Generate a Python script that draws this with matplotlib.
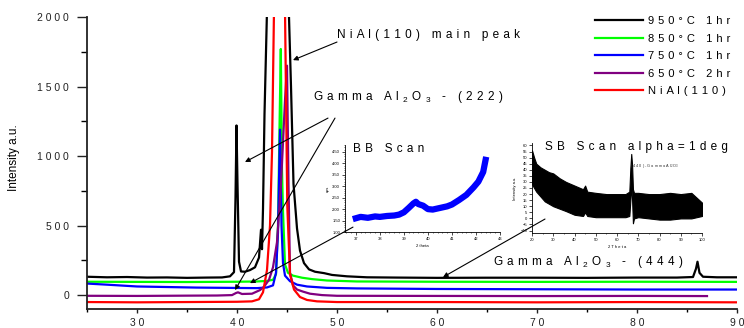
import matplotlib
matplotlib.use("Agg")
import matplotlib.pyplot as plt
from matplotlib.ticker import MultipleLocator

plt.rcParams['font.family'] = ['Liberation Sans', 'DejaVu Sans']
plt.rcParams['mathtext.fontset'] = 'custom'
plt.rcParams['mathtext.rm'] = 'Liberation Sans'

# ---------------- data ----------------
black_x = [25, 27, 29, 31, 33, 35, 37, 38.5, 39.3, 39.7, 39.85, 39.95, 40.05, 40.2, 40.4, 40.8, 41.3, 41.8,
           42.2, 42.4, 42.5, 42.6, 42.75, 43.0, 43.3, 44.1, 44.9, 45.2, 45.4, 45.65, 46.0, 46.3, 46.7, 47.2,
           47.8, 48.7, 49.5, 51, 53, 56, 60, 65, 70, 75, 80, 84, 85.6, 85.9, 86.05, 86.25, 86.6, 88, 90]
black_y = [132, 128, 130, 126, 127, 124, 126, 127, 135, 165, 700, 1220, 800, 240, 170, 168, 180, 200,
           270, 470, 330, 620, 1300, 2050, 3000, 5000, 4000, 2000, 1500, 800, 480, 320, 230, 185,
           168, 158, 145, 135, 128, 126, 124, 125, 125, 124, 126, 126, 130, 190, 240, 160, 132, 128, 128]

green_x = [25, 30, 35, 40, 42, 43, 43.6, 43.9, 44.1, 44.25, 44.38, 44.5, 44.6, 44.8, 45.1, 45.6, 46.5,
           47.5, 49, 52, 60, 70, 80, 90]
green_y = [96, 95, 94, 96, 98, 102, 110, 150, 500, 1200, 1770, 900, 600, 220, 160, 140, 125,
           115, 105, 98, 96, 95, 96, 95]

blue_x = [25, 27, 30, 33, 36, 39, 42, 43, 43.6, 43.9, 44.1, 44.3, 44.45, 44.6, 44.8, 45.3, 46, 47, 49,
          52, 60, 70, 80, 90]
blue_y = [83, 75, 62, 58, 54, 52, 50, 55, 70, 160, 450, 1190, 500, 230, 140, 100, 75, 62, 52,
          48, 44, 42, 40, 40]

purple_x = [25, 30, 35, 38, 39.5, 39.9, 40.1, 40.5, 41.5, 42.3, 42.7, 43.2, 43.6, 44.0, 44.4, 44.8, 45.0,
            45.15, 45.3, 45.6, 46.0, 46.6, 47.3, 48.5, 50, 60, 70, 80, 87]
purple_y = [-5, -6, -4, -3, 0, 15, 20, 8, 10, 36, 60, 110, 200, 380, 800, 1400, 1650,
            800, 160, 70, 40, 25, 10, 0, -5, -6, -7, -6, -7]

red_x = [25, 30, 35, 40, 41.5, 42.2, 42.6, 43.0, 43.3, 43.5, 43.7, 44.2, 44.8, 45.03, 45.3, 45.7, 46.3,
         47, 48, 50, 60, 70, 80, 90]
red_y = [-50, -52, -50, -48, -45, -30, 20, 180, 500, 1030, 2050, 6000, 2050, 640, 150, 40, -14,
         -35, -45, -50, -50, -52, -50, -52]

series_labels = ["950\u00b0C 1hr", "850\u00b0C 1hr", "750\u00b0C 1hr", "650\u00b0C 2hr", "NiAl(110)"]
series_colors = ["#000000", "#00ff00", "#0000ff", "#800080", "#ff0000"]

x_ticks = [30, 40, 50, 60, 70, 80, 90]
y_ticks = [0, 500, 1000, 1500, 2000]

# BB scan inset
bb_x = [37.0, 37.2, 37.5, 37.8, 38.0, 38.3, 38.6, 38.8, 39.0, 39.2, 39.4, 39.5, 39.6, 39.8, 40.0,
        40.2, 40.5, 40.8, 41.0, 41.3, 41.6, 41.9, 42.1, 42.3, 42.4]
bb_y = [1.60, 1.66, 1.62, 1.68, 1.66, 1.70, 1.72, 1.76, 1.86, 2.05, 2.25, 2.32, 2.22, 2.15, 2.00,
        1.98, 2.05, 2.12, 2.20, 2.40, 2.62, 2.95, 3.20, 3.62, 4.15]
bb_xticks = [37, 38, 39, 40, 41, 42, 43]
bb_yticks = [1.0, 1.5, 2.0, 2.5, 3.0, 3.5, 4.0, 4.5]

# SB scan inset (upper / lower envelope of the noisy trace)
sb_x = [20, 21, 22, 24, 26, 28, 30, 33, 36, 40, 44, 45, 46, 50, 55, 60, 64, 65.8, 66.3, 66.7, 67.1,
        67.5, 68, 70, 75, 80, 85, 90, 95, 100]
sb_upper = [56, 50, 45, 42, 40, 38, 37, 33, 30, 27, 24, 27, 22, 21, 20, 20, 20, 22, 42, 53, 44,
            24, 21, 21, 20, 20, 21, 20, 21, 13]
sb_lower = [28, 25, 22, 18, 14, 12, 10, 8, 6, 3, 2, 5, 2, 1, 1, 1, 1, 2, 15, 28, 15,
            -4, 0, 1, 0, -1, -1, 0, 0, 2]
sb_xticks = [20, 30, 40, 50, 60, 70, 80, 90, 100]
sb_yticks = [-10, -5, 0, 5, 10, 15, 20, 25, 30, 35, 40, 45, 50, 55, 60]

SEP = " \u200a"


def sp(s, sep=SEP):
    """letter-spaced text"""
    return sep.join(list(s))


SUB2 = r"$_\mathregular{2}$"
SUB3 = r"$_\mathregular{3}$"

# ---------------- figure ----------------
W, H = 744, 328
fig = plt.figure(figsize=(W / 100, H / 100), dpi=100)
ax = fig.add_axes([87 / W, 1 - 309 / H, (737 - 87) / W, (309 - 17) / H])

xs = [black_x, green_x, blue_x, purple_x, red_x]
ys = [black_y, green_y, blue_y, purple_y, red_y]
for x, y, c, lab in zip(xs, ys, series_colors, series_labels):
    ax.plot(x, y, color=c, lw=1.6, label=sp(lab))

ax.set_xlim(25, 90)
ax.set_ylim(-100, 2000)
ax.set_xticks(x_ticks)
ax.set_xticklabels([" ".join(str(v)) for v in x_ticks])
ax.set_yticks(y_ticks)
ax.set_yticklabels([" ".join(str(v)) for v in y_ticks])
ax.xaxis.set_minor_locator(MultipleLocator(5))
ax.yaxis.set_minor_locator(MultipleLocator(250))
for s in ['top', 'right']:
    ax.spines[s].set_visible(False)
for s in ['left', 'bottom']:
    ax.spines[s].set_linewidth(1.3)
    ax.spines[s].set_color('#222222')
ax.tick_params(axis='x', which='major', direction='out', length=3, width=1, pad=3.5,
               labelsize=7.5, colors='#222222')
ax.tick_params(axis='x', which='minor', direction='out', length=2, width=1)
ax.tick_params(axis='y', which='major', direction='out', length=7, width=1, pad=6,
               labelsize=7.5, colors='#222222')
ax.tick_params(axis='y', which='minor', direction='out', length=4, width=1)
ax.set_ylabel("Intensity a.u.", fontsize=8.5)
ax.yaxis.set_label_coords(-(87 - 20) / (737 - 87), 0.52)

leg = fig.legend(loc='upper left', bbox_to_anchor=(595 / W, 1 - 16 / H), frameon=False,
                 fontsize=8, handlelength=4.3, handletextpad=0.45, labelspacing=0.68,
                 borderpad=0, borderaxespad=0)

# annotations
arrow = dict(arrowstyle='-|>', color='black', lw=0.8, mutation_scale=7, shrinkA=0, shrinkB=0)
ax.text(50.0, 1870, sp("NiAl(110) main peak"), fontsize=8.5, va='center', ha='left')
ax.annotate("", xy=(45.6, 1690), xytext=(50.0, 1820), arrowprops=arrow)
gamma222 = sp("Gamma Al") + SEP + SUB2 + SEP + "O" + SEP + SUB3 + SEP + sp(" - (222)")
ax.text(47.6, 1424, gamma222, fontsize=8.5, va='center', ha='left')
ax.annotate("", xy=(40.8, 957), xytext=(49.1, 1273), arrowprops=arrow)
ax.annotate("", xy=(39.8, 36), xytext=(49.8, 1273), arrowprops=arrow)
ax.annotate("", xy=(41.3, 86), xytext=(51.6, 489), arrowprops=arrow)
ax.annotate("", xy=(60.6, 129), xytext=(70.8, 547), arrowprops=arrow)
gamma444 = sp("Gamma Al") + SEP + SUB2 + SEP + "O" + SEP + SUB3 + SEP + sp(" - (444)")
ax.text(65.6, 237, gamma444, fontsize=8.5, va='center', ha='left')

# ---------------- BB inset ----------------
axb = fig.add_axes([345 / W, 1 - 232 / H, (500 - 345) / W, (232 - 145) / H])
axb.patch.set_alpha(0)
axb.plot(bb_x, bb_y, color='#0000ff', lw=4.5)
axb.set_xlim(36.55, 43.0)
axb.set_ylim(1.0, 4.8)
axb.set_xticks(bb_xticks)
axb.set_yticks(bb_yticks)
axb.set_yticklabels(["%.2f" % v for v in bb_yticks])
axb.xaxis.set_minor_locator(MultipleLocator(0.2))
axb.yaxis.set_minor_locator(MultipleLocator(0.1))
for s in ['top', 'right']:
    axb.spines[s].set_visible(False)
for s in ['left', 'bottom']:
    axb.spines[s].set_linewidth(0.6)
axb.tick_params(which='major', length=2, width=0.5, labelsize=3, pad=1.5)
axb.tick_params(which='minor', length=1, width=0.4)
axb.set_xlabel("2 theta", fontsize=3, labelpad=2)
axb.set_ylabel("cps", fontsize=3, labelpad=2)
axb.text(0.05, 0.95, sp("BB Scan"), transform=axb.transAxes, fontsize=8.5, va='center', ha='left')

# ---------------- SB inset ----------------
axs = fig.add_axes([532 / W, 1 - 233 / H, (702 - 532) / W, (233 - 143) / H])
axs.patch.set_alpha(0)
axs.fill_between(sb_x, sb_lower, sb_upper, color='black', lw=0.8)
axs.set_xlim(20, 100)
axs.set_ylim(-12, 62)
axs.set_xticks(sb_xticks)
axs.set_yticks(sb_yticks)
axs.xaxis.set_minor_locator(MultipleLocator(5))
for s in ['top', 'right']:
    axs.spines[s].set_visible(False)
for s in ['left', 'bottom']:
    axs.spines[s].set_linewidth(0.6)
axs.tick_params(which='major', length=2, width=0.5, labelsize=3, pad=1.5)
axs.tick_params(which='minor', length=1, width=0.4)
axs.set_xlabel("2 T h e t a", fontsize=3, labelpad=2)
axs.set_ylabel("Intensity a.u.", fontsize=3, labelpad=2)
axs.text(0.075, 0.96, sp("SB Scan alpha=1deg"), transform=axs.transAxes,
         fontsize=8.5, va='center', ha='left')
axs.text(66, 43, r"( 4 4 0 ) - G a m m a A l$_\mathregular{2}$O$_\mathregular{3}$", fontsize=2.8,
         va='center', ha='left', color='#333333')

fig.savefig("out.png", dpi=100)
